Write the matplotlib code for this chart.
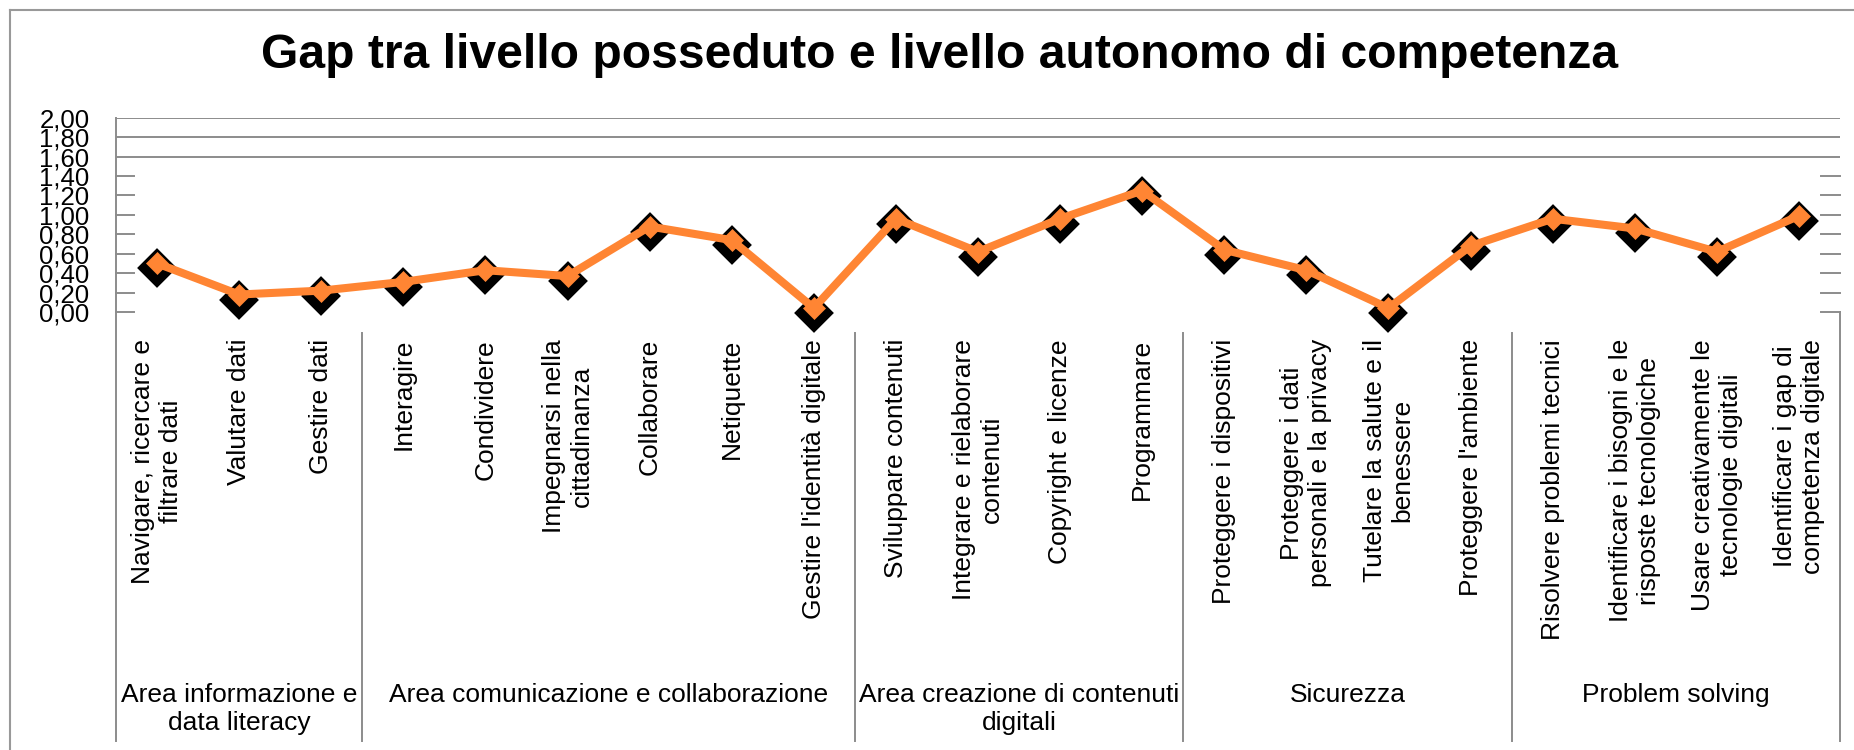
import numpy as np
import matplotlib.pyplot as plt
import matplotlib.transforms as mtransforms
from matplotlib.lines import Line2D

plt.rcParams['font.family'] = ['Liberation Sans', 'DejaVu Sans']

# Competenze digitali e gap rispetto al livello autonomo
competenze = [
    "Navigare, ricercare e\nfiltrare dati",
    "Valutare dati",
    "Gestire dati",
    "Interagire",
    "Condividere",
    "Impegnarsi nella\ncittadinanza",
    "Collaborare",
    "Netiquette",
    "Gestire l'identità digitale",
    "Sviluppare contenuti",
    "Integrare e rielaborare\ncontenuti",
    "Copyright e licenze",
    "Programmare",
    "Proteggere i dispositivi",
    "Proteggere i dati\npersonali e la privacy",
    "Tutelare la salute e il\nbenessere",
    "Proteggere l'ambiente",
    "Risolvere problemi tecnici",
    "Identificare i bisogni e le\nrisposte tecnologiche",
    "Usare creativamente le\ntecnologie digitali",
    "Identificare i gap di\ncompetenza digitale",
]
gap = [0.50, 0.18, 0.22, 0.31, 0.43, 0.37, 0.88, 0.74, 0.04,
       0.96, 0.62, 0.96, 1.25,
       0.64, 0.43, 0.04, 0.68,
       0.96, 0.86, 0.62, 0.99]

aree = ["Area informazione e\ndata literacy",
        "Area comunicazione e collaborazione",
        "Area creazione di contenuti\ndigitali",
        "Sicurezza",
        "Problem solving"]
n_per_area = [3, 6, 4, 4, 4]

y_ticks = [0.0, 0.2, 0.4, 0.6, 0.8, 1.0, 1.2, 1.4, 1.6, 1.8, 2.0]

W, H = 1854, 750
fig = plt.figure(figsize=(W / 100, H / 100), dpi=100)
ax = fig.add_axes([116 / W, 1 - 312 / H, (1840 - 116) / W, (312 - 117.7) / H])

x = np.arange(len(gap))
orange = '#FF8533'
grey = '#8c8c8c'

# black diamond "shadow" shifted a few px down, then line + orange diamonds
shadow = ax.transData + mtransforms.ScaledTranslation(0, -5 / 100, fig.dpi_scale_trans)
ax.plot(x, gap, linestyle='none', marker='D', ms=14.5, mfc='black', mec='black',
        mew=6, transform=shadow, zorder=3, clip_on=False)
m, = ax.plot(x, gap, color=orange, lw=5.8, marker='D', ms=11.7, mfc=orange,
             mec=orange, mew=0.5, zorder=4, clip_on=False)
m.set_solid_joinstyle('miter')

ax.set_xlim(-0.5, len(gap) - 0.5)
ax.set_ylim(0, 2)
for s in ax.spines.values():
    s.set_visible(False)
ax.set_xticks([])
ax.set_yticks(y_ticks)
ax.set_yticklabels([f"{v:.2f}".replace('.', ',') for v in y_ticks], fontsize=18.5)
ax.tick_params(axis='y', length=0, pad=19)

# gridlines only at the top, short stubs on both sides for the rest
for v in y_ticks:
    if v >= 1.6:
        ax.axhline(v, color=grey, lw=1.4, zorder=1)
    else:
        ax.plot([0, 18 / 1724], [v, v], color=grey, lw=1.4,
                transform=ax.get_yaxis_transform(), clip_on=False)
        ax.plot([1 - 19 / 1724, 1], [v, v], color=grey, lw=1.4,
                transform=ax.get_yaxis_transform(), clip_on=False)

# category axis: rotated labels, group separators and group names
bt = mtransforms.blended_transform_factory(ax.transData, fig.transFigure)
for i, lab in enumerate(competenze):
    ax.text(i, 1 - 339 / H, lab, transform=bt, rotation=90, ha='center', va='top',
            multialignment='center', fontsize=19, linespacing=1.2)

edges = np.concatenate([[0], np.cumsum(n_per_area)]) - 0.5
for k, e in enumerate(edges):
    if k == 0:
        y0 = 1 - 117.7 / H
    elif k == len(edges) - 1:
        y0 = 1 - 312 / H
    else:
        y0 = 1 - 333 / H
    ax.add_line(Line2D([e, e], [y0, 1 - 741 / H], transform=bt, color=grey,
                       lw=1.4, clip_on=False))

for k, name in enumerate(aree):
    cx = (edges[k] + edges[k + 1]) / 2
    ax.text(cx, 1 - 683 / H, name, transform=bt, ha='center', va='top',
            multialignment='center', fontsize=19, linespacing=1.2)

# outer chart frame (top and left edges)
fig.add_artist(Line2D([10 / W, 10 / W], [0, 1 - 10 / H], transform=fig.transFigure,
                      color='#999999', lw=1.5))
fig.add_artist(Line2D([10 / W, 1], [1 - 10 / H, 1 - 10 / H], transform=fig.transFigure,
                      color='#999999', lw=1.5))

fig.text(940 / W, 1 - 56 / H, "Gap tra livello posseduto e livello autonomo di competenza",
         ha='center', va='center', fontsize=34.6, fontweight='bold')

fig.savefig('out.png', dpi=100, facecolor='white')
